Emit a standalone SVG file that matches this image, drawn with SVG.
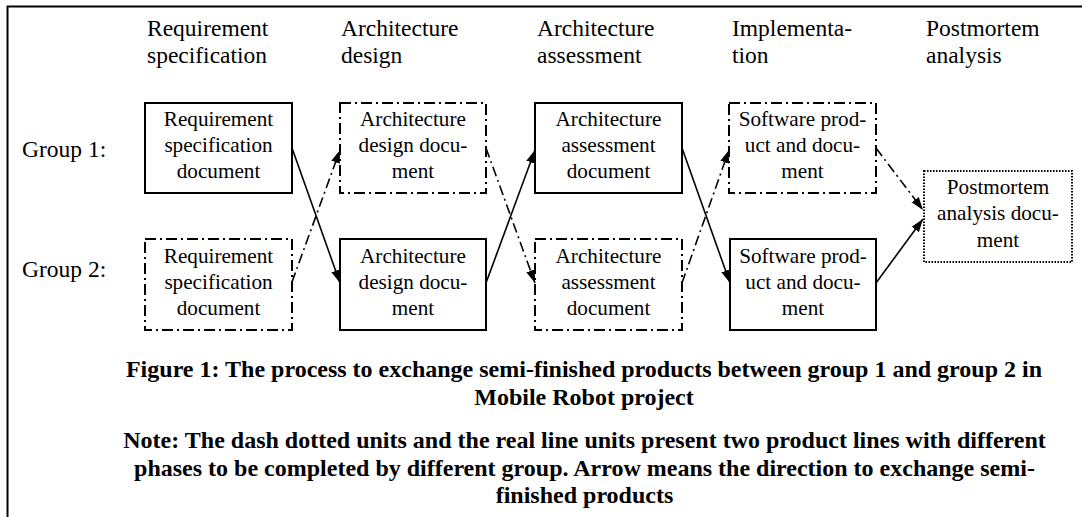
<svg xmlns="http://www.w3.org/2000/svg" width="1082" height="517" viewBox="0 0 1082 517">
<style>
  text { font-family: "Liberation Serif", "Times New Roman", serif; fill: #000; }
  .hdr { font-size: 23.5px; }
  .grp { font-size: 23.5px; }
  .box { font-size: 21.2px; text-anchor: middle; }
  .cap { font-size: 24px; font-weight: bold; text-anchor: middle; }
  .solid { fill: #fff; stroke: #000; stroke-width: 2; }
  .dd { fill: #fff; stroke: #000; stroke-width: 2; stroke-dasharray: 11 4 2 4; }
  .dot { fill: #fff; stroke: #000; stroke-width: 2; stroke-dasharray: 1.5 1.5; }
  .c-solid { stroke: #000; stroke-width: 1.6; fill: none; }
  .c-dd { stroke: #000; stroke-width: 1.6; fill: none; stroke-dasharray: 10 4 2 4; }
</style>
<defs>
  <marker id="arr" markerUnits="userSpaceOnUse" markerWidth="14" markerHeight="10" refX="13" refY="5" orient="auto" viewBox="0 0 14 10">
    <path d="M0,0.5 L13,5 L0,9.5 z" fill="#000" stroke="none"/>
  </marker>
</defs>
<rect x="0" y="0" width="1082" height="517" fill="#fff"/>
<g id="frame">
  <line x1="7" y1="6.5" x2="1082" y2="6.5" stroke="#000" stroke-width="2"/>
  <line x1="7.5" y1="6" x2="7.5" y2="517" stroke="#000" stroke-width="2"/>
</g>
<g id="headers">
  <text class="hdr" x="147" y="36">Requirement</text>
  <text class="hdr" x="147" y="62.5">specification</text>
  <text class="hdr" x="341" y="36">Architecture</text>
  <text class="hdr" x="341" y="62.5">design</text>
  <text class="hdr" x="537" y="36">Architecture</text>
  <text class="hdr" x="537" y="62.5">assessment</text>
  <text class="hdr" x="732" y="36">Implementa-</text>
  <text class="hdr" x="732" y="62.5">tion</text>
  <text class="hdr" x="926" y="36">Postmortem</text>
  <text class="hdr" x="926" y="62.5">analysis</text>
</g>
<g id="group-labels">
  <text class="grp" x="22" y="157">Group 1:</text>
  <text class="grp" x="22" y="277">Group 2:</text>
</g>
<g id="g1-req">
  <rect class="solid" x="145" y="103" width="147" height="90"/>
  <text class="box" x="218.5" y="126">Requirement</text>
  <text class="box" x="218.5" y="152">specification</text>
  <text class="box" x="218.5" y="178">document</text>
</g>
<g id="g1-arch">
  <rect class="dd" x="340" y="103" width="146" height="90"/>
  <text class="box" x="413" y="126">Architecture</text>
  <text class="box" x="413" y="152">design docu-</text>
  <text class="box" x="413" y="178">ment</text>
</g>
<g id="g1-assess">
  <rect class="solid" x="535" y="103" width="147" height="90"/>
  <text class="box" x="608.5" y="126">Architecture</text>
  <text class="box" x="608.5" y="152">assessment</text>
  <text class="box" x="608.5" y="178">document</text>
</g>
<g id="g1-impl">
  <rect class="dd" x="729" y="103" width="147" height="90"/>
  <text class="box" x="802.5" y="126">Software prod-</text>
  <text class="box" x="802.5" y="152">uct and docu-</text>
  <text class="box" x="802.5" y="178">ment</text>
</g>
<g id="g2-req">
  <rect class="dd" x="145" y="239" width="147" height="91"/>
  <text class="box" x="218.5" y="262.5">Requirement</text>
  <text class="box" x="218.5" y="288.5">specification</text>
  <text class="box" x="218.5" y="314.5">document</text>
</g>
<g id="g2-arch">
  <rect class="solid" x="340" y="239" width="146" height="91"/>
  <text class="box" x="413" y="262.5">Architecture</text>
  <text class="box" x="413" y="288.5">design docu-</text>
  <text class="box" x="413" y="314.5">ment</text>
</g>
<g id="g2-assess">
  <rect class="dd" x="535" y="239" width="147" height="91"/>
  <text class="box" x="608.5" y="262.5">Architecture</text>
  <text class="box" x="608.5" y="288.5">assessment</text>
  <text class="box" x="608.5" y="314.5">document</text>
</g>
<g id="g2-impl">
  <rect class="solid" x="730" y="239" width="146" height="91"/>
  <text class="box" x="803" y="262.5">Software prod-</text>
  <text class="box" x="803" y="288.5">uct and docu-</text>
  <text class="box" x="803" y="314.5">ment</text>
</g>
<g id="postmortem">
  <rect class="dot" x="924" y="171" width="148" height="91"/>
  <text class="box" x="998" y="194">Postmortem</text>
  <text class="box" x="998" y="220">analysis docu-</text>
  <text class="box" x="998" y="246.5">ment</text>
</g>
<g id="connectors">
  <line class="c-solid" x1="292" y1="148" x2="340" y2="283" marker-end="url(#arr)"/>
  <line class="c-dd" x1="292" y1="282" x2="340" y2="150" marker-end="url(#arr)"/>
  <line class="c-dd" x1="486" y1="148" x2="535" y2="283" marker-end="url(#arr)"/>
  <line class="c-solid" x1="486" y1="283" x2="535" y2="150" marker-end="url(#arr)"/>
  <line class="c-solid" x1="682" y1="148" x2="730" y2="283" marker-end="url(#arr)"/>
  <line class="c-dd" x1="682" y1="283" x2="729" y2="150" marker-end="url(#arr)"/>
  <line class="c-dd" x1="876" y1="148" x2="923" y2="210" marker-end="url(#arr)"/>
  <line class="c-solid" x1="876" y1="283" x2="923" y2="219" marker-end="url(#arr)"/>
</g>
<g id="caption">
  <text class="cap" x="584" y="376.5">Figure 1: The process to exchange semi-finished products between group 1 and group 2 in</text>
  <text class="cap" x="584" y="405">Mobile Robot project</text>
  <text class="cap" x="584.5" y="448">Note: The dash dotted units and the real line units present two product lines with different</text>
  <text class="cap" x="584.5" y="476">phases to be completed by different group. Arrow means the direction to exchange semi-</text>
  <text class="cap" x="584.5" y="503">finished products</text>
</g>
</svg>
